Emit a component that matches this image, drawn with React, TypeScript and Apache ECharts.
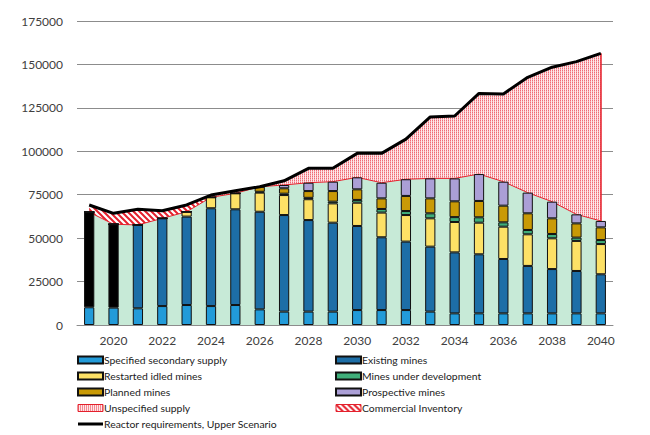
import React, { useEffect, useRef } from "react";
import * as echarts from "echarts";

const years = ["2019","2020","2021","2022","2023","2024","2025","2026","2027","2028","2029","2030","2031","2032","2033","2034","2035","2036","2037","2038","2039","2040"];
const specifiedSecondary = [10200,10000,9600,10900,11500,10900,11500,9000,7700,7700,7700,8600,8600,8600,7700,6700,6700,6700,6700,6700,6700,6700];
const existingMines = [54800,48000,48000,50500,50900,56300,55100,56200,55600,52700,51200,48400,41900,39400,37400,35100,34000,31300,27300,25500,24400,22500];
const restartedIdled = [0,0,0,0,2800,6300,9200,11000,11500,12000,11100,13400,14200,15300,16300,17500,18200,18600,18200,17700,17300,17400];
const underDevelopment = [0,0,0,0,0,0,0,500,800,800,1000,1600,2100,2300,2900,2800,3100,2500,2500,2500,1900,2300];
const plannedMines = [0,0,0,0,0,0,0,2900,3100,3900,6100,6100,6100,8700,8600,9100,9400,9600,9600,9000,8200,7300];
const prospectiveMines = [0,0,0,0,0,0,0,0,1900,4800,5400,6900,9000,9600,11500,13200,15500,13800,11900,9600,5200,3700];
const commercialInventory = [4100,6300,9000,4400,3900,0,0,0,0,0,0,0,0,0,0,0,0,0,0,0,0,0];
const reactorRequirements = [69100,64300,66600,65800,69100,74800,77300,79600,83000,90200,90200,98800,98800,107000,119800,120300,133300,133000,142600,148400,151600,156400];
const yTicks = { min: 0, max: 175000, interval: 25000 };

const FONT = "Lato";

function makeHatch(): HTMLCanvasElement {
  const c = document.createElement("canvas");
  c.width = 6; c.height = 6;
  const g = c.getContext("2d")!;
  g.fillStyle = "#ffffff"; g.fillRect(0, 0, 6, 6);
  g.strokeStyle = "#e4202c"; g.lineWidth = 2;
  g.beginPath();
  g.moveTo(-1, -1); g.lineTo(7, 7);
  g.moveTo(-4, 2); g.lineTo(1, 7);
  g.moveTo(2, -4); g.lineTo(7, 1);
  g.stroke();
  return c;
}
function makeDots(): HTMLCanvasElement {
  const c = document.createElement("canvas");
  c.width = 2; c.height = 2;
  const g = c.getContext("2d")!;
  g.fillStyle = "#fde8ea"; g.fillRect(0, 0, 2, 2);
  g.fillStyle = "#f06a74"; g.fillRect(0, 0, 1, 1);
  g.fillStyle = "#f7aab0"; g.fillRect(0, 1, 1, 1);
  return c;
}

export default function App() {
  const ref = useRef<HTMLDivElement>(null);
  useEffect(() => {
    if (!ref.current) return;
    const chart = echarts.init(ref.current, undefined, { renderer: "svg" });
    const hatch = { image: makeHatch(), repeat: "repeat" } as any;
    const dots = { image: makeDots(), repeat: "repeat" } as any;
    const n = years.length;
    const totals = years.map((_, i) => specifiedSecondary[i] + existingMines[i] + restartedIdled[i] + underDevelopment[i] + plannedMines[i] + prospectiveMines[i]);
    const unspecified = years.map((_, i) => Math.max(0, reactorRequirements[i] - totals[i] - commercialInventory[i]));
    const border = { borderColor: "#111", borderWidth: 1 };
    const barCommon = { type: "bar", stack: "bars", barWidth: "42%", z: 3 };
    const mk = (name: string, data: number[], color: string) => ({ ...barCommon, name, data, itemStyle: { color, ...border } });
    const existingData = existingMines.map((v, i) => (i < 2 ? { value: v, itemStyle: { color: "#000" } } : v));
    const legendText = { fontFamily: FONT, fontSize: 10.4, lineHeight: 14, color: "#222", padding: [0, 0, 0, -4] };
    const legendCommon = { orient: "vertical", top: 353, padding: 0, itemWidth: 25, itemHeight: 7, itemGap: 2, textStyle: legendText };
    chart.setOption({
      animation: false,
      backgroundColor: "#fff",
      grid: { left: 77, right: 37, top: 21, bottom: 110 },
      xAxis: {
        type: "category", data: years,
        axisLine: { lineStyle: { color: "#8c8c8c", width: 1 } },
        axisTick: { show: false },
        axisLabel: { interval: (i: number) => i % 2 === 1, color: "#404040", fontSize: 12, fontFamily: FONT, margin: 9 },
      },
      yAxis: {
        type: "value", ...yTicks,
        axisLine: { show: false }, axisTick: { show: false },
        splitLine: { lineStyle: { color: "#8c8c8c", width: 1 } },
        axisLabel: { color: "#404040", fontSize: 12, fontFamily: FONT, margin: 14, formatter: (v: number) => String(v) },
      },
      legend: [
        {
          ...legendCommon, left: 77,
          data: [
            { name: "Specified secondary supply", icon: "rect" },
            { name: "Restarted idled mines", icon: "rect" },
            { name: "Planned mines", icon: "rect" },
            { name: "Unspecified supply", icon: "rect", itemStyle: { color: dots, borderColor: "#e4202c", borderWidth: 1 } },
            { name: "Reactor requirements, Upper Scenario", icon: "path://M0,0L25,0L25,3L0,3Z", itemStyle: { color: "#000", borderWidth: 0 } },
          ],
        },
        {
          ...legendCommon, left: 335,
          data: [
            { name: "Existing mines", icon: "rect" },
            { name: "Mines under development", icon: "rect" },
            { name: "Prospective mines", icon: "rect" },
            { name: "Commercial Inventory", icon: "rect", itemStyle: { color: hatch, borderColor: "#e4202c", borderWidth: 1 } },
          ],
        },
      ],
      series: [
        {
          type: "line", name: "Total supply", stack: "area", data: totals, symbol: "none", z: 1,
          lineStyle: { color: "#e4202c", width: 1 }, itemStyle: { color: "#c7ead7" },
          areaStyle: { color: "#c7ead7", opacity: 1 },
        },
        {
          type: "line", name: "Commercial Inventory", stack: "area", data: commercialInventory, symbol: "none", z: 1,
          lineStyle: { width: 0 }, itemStyle: { color: "#e4202c" },
          areaStyle: { color: hatch, opacity: 1 },
        },
        {
          type: "line", name: "Unspecified supply", stack: "area", data: unspecified, symbol: "none", z: 1,
          lineStyle: { width: 0 }, itemStyle: { color: "#e4202c" },
          areaStyle: { color: dots, opacity: 1 },
          markLine: {
            symbol: "none", silent: true, label: { show: false },
            lineStyle: { color: "#e4202c", width: 1.5, type: "solid" },
            data: [[{ coord: [years[n - 1], totals[n - 1]] }, { coord: [years[n - 1], reactorRequirements[n - 1]] }]],
          },
        },
        mk("Specified secondary supply", specifiedSecondary, "#229bd9"),
        { ...mk("Existing mines", existingMines, "#1d6ea7"), data: existingData },
        mk("Restarted idled mines", restartedIdled, "#fde166"),
        mk("Mines under development", underDevelopment, "#3fae7a"),
        mk("Planned mines", plannedMines, "#c99a06"),
        mk("Prospective mines", prospectiveMines, "#ab9fd6"),
        {
          type: "line", name: "Reactor requirements, Upper Scenario", data: reactorRequirements, symbol: "none", z: 5,
          lineStyle: { color: "#000", width: 3 }, itemStyle: { color: "#000" },
        },
      ],
    });
    return () => chart.dispose();
  }, []);
  return <div ref={ref} style={{ width: 650, height: 435, position: "absolute", left: 0, top: 0 }} />;
}
